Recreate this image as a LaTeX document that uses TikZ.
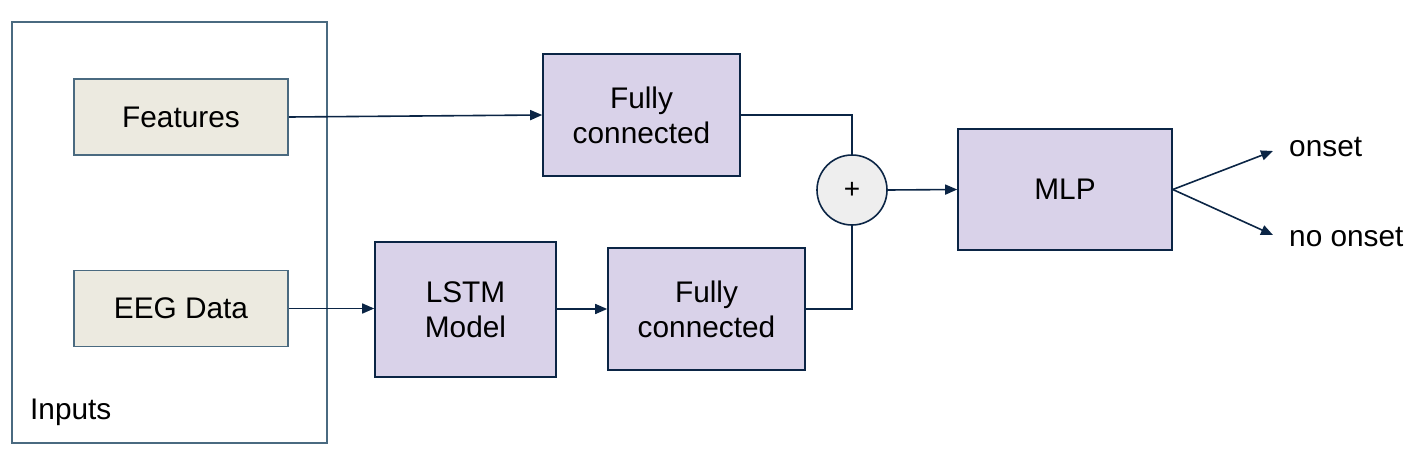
\documentclass[tikz,border=0pt]{standalone}
\usepackage{fontspec}
\setmainfont{Liberation Sans}
\usetikzlibrary{arrows.meta}
\definecolor{grayborder}{HTML}{4A6A80}
\definecolor{navy}{HTML}{0B2545}
\definecolor{beige}{HTML}{ECEAE0}
\definecolor{lilac}{HTML}{D9D2E9}
\definecolor{circfill}{HTML}{EEEEEE}
\tikzset{
  inbox/.style={draw=grayborder, fill=beige, line width=1.6pt, minimum width=214pt, minimum height=76pt, inner sep=0pt},
  procbox/.style={draw=navy, fill=lilac, line width=1.6pt, inner sep=0pt, align=center},
  conn/.style={draw=navy, line width=1.6pt},
  arr/.style={conn, -{Triangle[length=12pt,width=10pt]}},
  lbl/.style={inner sep=0pt, anchor=west}
}
\begin{document}
\begin{tikzpicture}[x=1pt,y=-1pt,font=\fontsize{29.8}{35}\selectfont]
\useasboundingbox (0,0) rectangle (1418,461);
\node[draw=grayborder, line width=1.6pt, minimum width=315pt, minimum height=421pt, inner sep=0pt] (inputs) at (169.5,232.5) {};
\node[lbl] (inlabel) at (30,412) {Inputs};
\node[inbox] (feat) at (181,117) {Features};
\node[inbox] (eeg) at (181,308.5) {EEG Data};
\node[procbox, minimum width=197pt, minimum height=122pt] (fc1) at (641.5,115) {Fully\\connected};
\node[procbox, minimum width=181pt, minimum height=135pt] (lstm) at (465.5,309.5) {LSTM\\Model};
\node[procbox, minimum width=197pt, minimum height=122pt] (fc2) at (706.5,309) {Fully\\connected};
\node[draw=navy, fill=circfill, line width=1.6pt, circle, minimum size=70pt, inner sep=0pt, font=\fontsize{28}{30}\selectfont] (plus) at (852,190) {+};
\node[procbox, minimum width=214pt, minimum height=121pt] (mlp) at (1065,189.5) {MLP};
\coordinate (onsettip) at (1273,151);
\coordinate (noonsettip) at (1273,235);
\node[lbl] (onset) at (1289,147) {onset};
\node[lbl] (noonset) at (1289,237) {no onset};
\draw[arr] (feat.east) -- (fc1.west);
\draw[arr] (eeg.east) -- (lstm.west |- eeg.east);
\draw[arr] (lstm.east |- fc2.west) -- (fc2.west);
\draw[conn] (fc1.east) -- (plus.north |- fc1.east) -- (plus.north);
\draw[conn] (fc2.east) -- (plus.south |- fc2.east) -- (plus.south);
\draw[arr] (plus.east) -- (mlp.west);
\draw[arr] (mlp.east) -- (onsettip);
\draw[arr] (mlp.east) -- (noonsettip);
\end{tikzpicture}
\end{document}
